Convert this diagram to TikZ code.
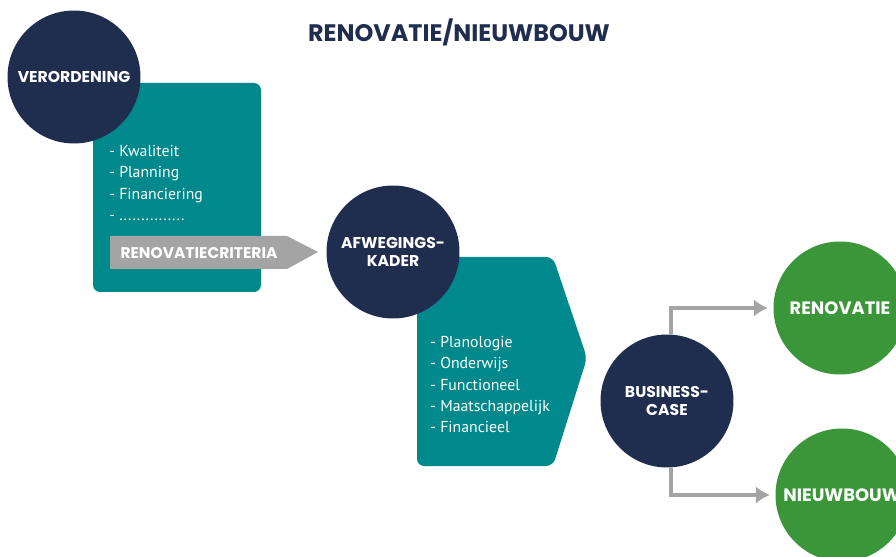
\documentclass[tikz,border=0pt]{standalone}
\usepackage{fontspec}
\setmainfont{PT Sans}
\newfontfamily\headfont{Poppins}
\usetikzlibrary{positioning,arrows.meta}
\definecolor{navy}{HTML}{1F2D4F}
\definecolor{teal}{HTML}{00898C}
\definecolor{leaf}{HTML}{3A9638}
\definecolor{arrowgray}{HTML}{A4A4A4}

\begin{document}
\begin{tikzpicture}[x=0.02cm, y=-0.02cm,
		bubble/.style = {circle, minimum size=2.66cm, inner sep=0pt,
				fill=navy, text=white, align=center,
				font=\headfont\bfseries\fontsize{8.9}{10.6}\selectfont},
		outcome/.style = {bubble, fill=leaf,
				font=\headfont\bfseries\fontsize{10.2}{12}\selectfont},
		items/.style = {anchor=north west, align=left, text=white,
				inner sep=0pt, font=\fontsize{9}{12.1}\selectfont},
		route/.style = {arrowgray, line width=2.3pt,
				-{Latex[length=8pt, width=10pt]}}
	]
	\useasboundingbox (0,0) rectangle (896,557);

	\node[font=\headfont\bfseries\fontsize{13.6}{16}\selectfont, text=navy]
	(title) at (459,32) {RENOVATIE/NIEUWBOUW};

	% teal blocks
	\fill[teal, rounded corners=4pt] (93,83) rectangle (261,292);
	\fill[teal, rounded corners=4pt] (417,257) -- (553,257) -- (587,358)
	-- (553,466) -- (417,466) -- cycle;

	\fill[arrowgray] (110,236) -- (287,236) -- (318,252) -- (287,269)
	-- (110,269) -- cycle;
	\node[text=white, font=\headfont\bfseries\fontsize{8.8}{10}\selectfont]
	(crit) at (199,253) {RENOVATIECRITERIA};

	\node[items] (eisen) at (109,145) {- Kwaliteit\\- Planning\\
		- Financiering\\- ...............};
	\node[items] (kader) at (430,336) {- Planologie\\- Onderwijs\\
		- Functioneel\\- Maatschappelijk\\- Financieel};

	\node[bubble] (vo) at (74,77) {VERORDENING};
	\node[bubble] (afw) at (393,252) {AFWEGINGS-\\KADER};
	\node[bubble] (bc) at (667,401) {BUSINESS-\\CASE};
	\node[outcome] (ren) at (840,308) {RENOVATIE};
	\node[outcome] (nb) at (842,495) {NIEUWBOUW};

	\draw[route, shorten >=3pt] ([xshift=2pt]bc.north) |- (ren.west);
	\draw[route, shorten >=3pt] ([xshift=2pt]bc.south) |- (nb.west);
\end{tikzpicture}
\end{document}
